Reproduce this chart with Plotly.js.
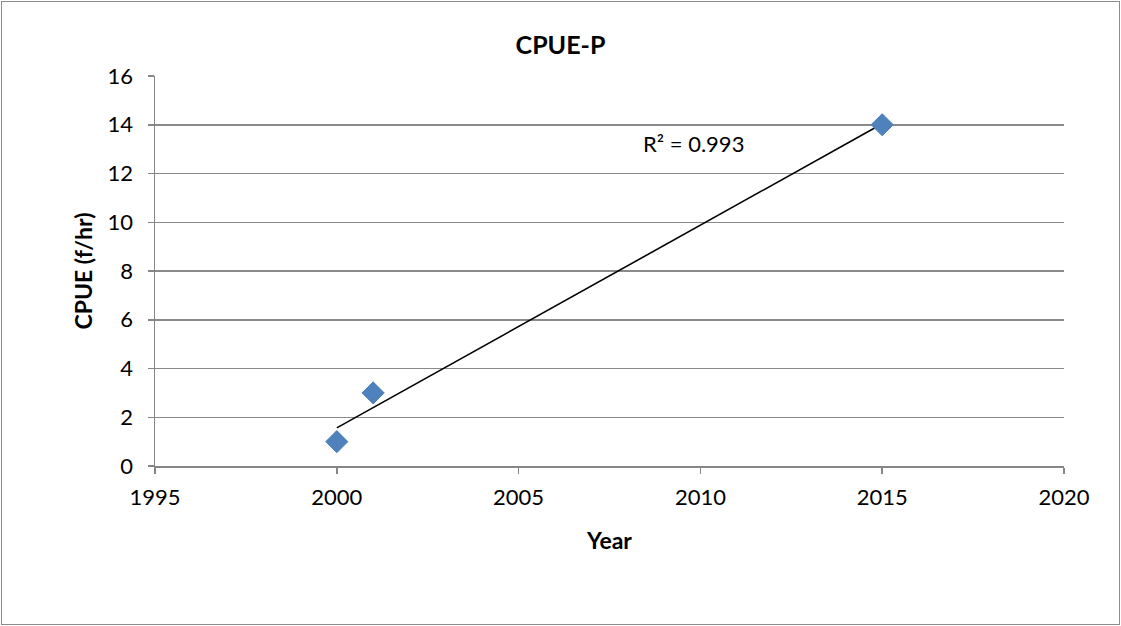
<!DOCTYPE html>
<html>
<head>
<meta charset="utf-8">
<script src="https://cdn.plot.ly/plotly-3.0.1.min.js"></script>
<style>
  html, body { margin: 0; padding: 0; background: #fff; }
  #wrap { position: relative; width: 1121px; height: 626px; }
  #chart { width: 1121px; height: 626px; }
  #frame { position: absolute; left: 1px; top: 1px; width: 1117px; height: 622px;
           border: 1px solid #8c8c8c; pointer-events: none; }
</style>
</head>
<body>
<div id="wrap">
  <div id="chart"></div>
  <div id="frame"></div>
</div>
<script>
const years = [2000, 2001, 2015];
const cpue = [1, 3, 14];
const xTicks = [1995, 2000, 2005, 2010, 2015, 2020];
const yTicks = [0, 2, 4, 6, 8, 10, 12, 14, 16];

// Linear least-squares trendline computed from the data
const n = years.length;
const mx = years.reduce((a, b) => a + b, 0) / n;
const my = cpue.reduce((a, b) => a + b, 0) / n;
let sxy = 0, sxx = 0, syy = 0;
for (let i = 0; i < n; i++) {
  sxy += (years[i] - mx) * (cpue[i] - my);
  sxx += (years[i] - mx) ** 2;
  syy += (cpue[i] - my) ** 2;
}
const slope = sxy / sxx;
const intercept = my - slope * mx;
const r2 = (sxy * sxy) / (sxx * syy);
const xmin = Math.min(...years), xmax = Math.max(...years);
const trendX = [xmin, xmax];
const trendY = trendX.map(x => intercept + slope * x);

const font = "Lato, 'Open Sans', 'Liberation Sans', sans-serif";

const data = [
  {
    x: trendX, y: trendY, type: 'scatter', mode: 'lines',
    line: { color: '#000000', width: 1.6 }, hoverinfo: 'skip', showlegend: false
  },
  {
    x: years, y: cpue, type: 'scatter', mode: 'markers',
    marker: { symbol: 'diamond', size: 17, color: '#4F81BD', line: { color: '#4A7EBB', width: 1 } },
    showlegend: false
  }
];

const layout = {
  width: 1121, height: 626,
  margin: { l: 155, r: 57, t: 76, b: 160 },
  paper_bgcolor: '#ffffff', plot_bgcolor: '#ffffff',
  font: { family: font, size: 22, color: '#000000' },
  title: { text: '<b>CPUE-P</b>', font: { family: font, size: 25, color: '#000' },
           x: 0.5, xanchor: 'center', y: 0.928, yanchor: 'middle' },
  xaxis: {
    range: [1995, 2020], tickvals: xTicks, ticktext: xTicks.map(String),
    showgrid: false, zeroline: false,
    showline: true, linecolor: '#868686', linewidth: 1.5,
    ticks: 'outside', ticklen: 6, tickcolor: '#868686', tickwidth: 1.5,
    ticklabelstandoff: 5,
    tickfont: { family: font, size: 22, color: '#000' },
    title: { text: '<b>Year</b>', font: { family: font, size: 23, color: '#000' }, standoff: 24 }
  },
  yaxis: {
    range: [0, 16], tickvals: yTicks, ticktext: yTicks.map(String),
    showgrid: true, gridcolor: '#8a8a8a', gridwidth: 1.5, zeroline: false,
    showline: true, linecolor: '#868686', linewidth: 1.5,
    ticks: 'outside', ticklen: 6, tickcolor: '#868686', tickwidth: 1.5,
    ticklabelstandoff: 10,
    tickfont: { family: font, size: 22, color: '#000' },
    title: { text: '<b>CPUE (f/hr)</b>', font: { family: font, size: 23, color: '#000' }, standoff: 8 }
  },
  annotations: [
    {
      x: 2009.8, y: 13.25, xref: 'x', yref: 'y',
      text: 'R² = ' + r2.toFixed(3), showarrow: false,
      font: { family: font, size: 22, color: '#000' }, xanchor: 'center', yanchor: 'middle'
    }
  ]
};

Plotly.newPlot('chart', data, layout, { displayModeBar: false, staticPlot: true });
</script>
</body>
</html>
